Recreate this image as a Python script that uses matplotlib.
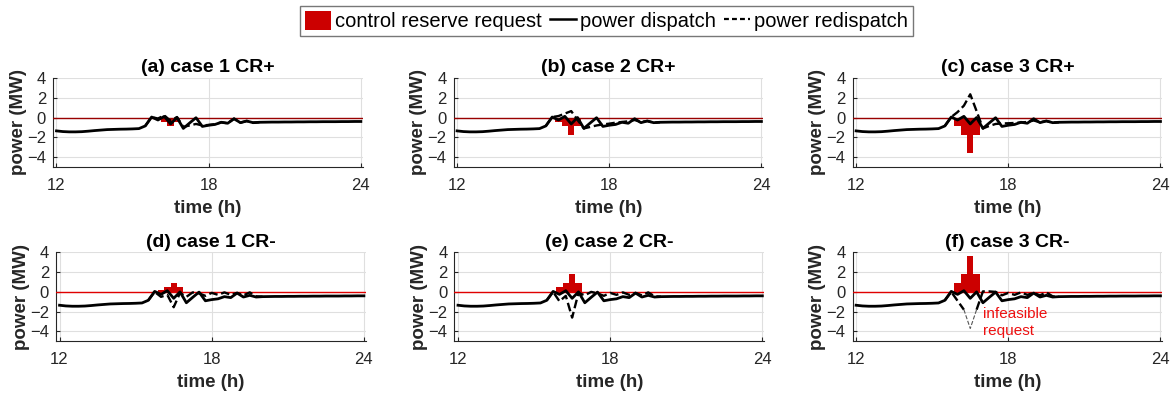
import numpy as np
import matplotlib
matplotlib.use("Agg")
import matplotlib.pyplot as plt
from matplotlib.patches import Patch
from matplotlib.lines import Line2D

plt.rcParams['font.family'] = ['Liberation Sans', 'DejaVu Sans']

# time axis, 15 min resolution
t = np.arange(12, 24.001, 0.25)

# power dispatch (same in all panels)
dispatch = [
    -1.35, -1.42, -1.45, -1.45, -1.43, -1.38, -1.32, -1.27,   # 12.00 - 13.75
    -1.22, -1.20, -1.18, -1.17, -1.15, -1.12, -0.85, 0.05,    # 14.00 - 15.75
    -0.25, 0.12, -0.65, 0.00, -1.10, -0.55, -0.02, -0.90,     # 16.00 - 17.75
    -0.78, -0.70, -0.48, -0.58, -0.12, -0.52, -0.35, -0.52,   # 18.00 - 19.75
    -0.48, -0.47, -0.46, -0.46, -0.45, -0.45, -0.44, -0.44,   # 20.00 - 21.75
    -0.43, -0.43, -0.42, -0.42, -0.42, -0.41, -0.41, -0.40,   # 22.00 - 23.75
    -0.40,                                                    # 24.00
]

# redispatch differs only inside this window
t_win = np.arange(15.5, 20.001, 0.25)
redisp_a = [-0.85, 0.05, -0.10, 0.22, -0.35, 0.05, -0.95, -0.80, -0.65, -0.80,
            -0.75, -0.68, -0.48, -0.58, -0.12, -0.52, -0.35, -0.52, -0.48]
redisp_b = [-0.85, 0.05, 0.15, 0.40, 0.65, -0.25, -1.10, -0.95, -0.80, -0.70,
            -0.62, -0.52, -0.45, -0.38, -0.25, -0.45, -0.35, -0.52, -0.48]
redisp_c = [-0.85, 0.05, 0.55, 1.20, 2.35, 0.65, -1.10, -0.85, -0.65, -0.60,
            -0.58, -0.55, -0.50, -0.45, -0.30, -0.48, -0.35, -0.52, -0.48]
redisp_d = [-0.85, 0.00, -0.50, -0.30, -1.55, -0.10, -0.50, -0.05, -0.15, -0.40,
            -0.10, -0.30, -0.05, -0.30, -0.10, -0.35, -0.05, -0.45, -0.48]
redisp_e = [-0.85, 0.00, -0.95, -0.40, -2.60, -0.10, -0.35, 0.00, -0.15, -0.40,
            -0.10, -0.30, -0.05, -0.30, -0.10, -0.35, -0.05, -0.45, -0.48]
redisp_f = [-0.85, 0.00, -0.90, -1.80, np.nan, -1.80, 0.05, 0.05, 0.00, -0.35,
            -0.10, -0.30, -0.05, -0.30, -0.10, -0.35, -0.05, -0.45, -0.48]

# infeasible part of case 3 CR-
t_inf = [16.25, 16.5, 16.75]
redisp_inf = [-1.80, -3.70, -1.80]

# control reserve requests
t_cr = [16.0, 16.25, 16.5, 16.75]
cr_1p = [-0.225, -0.45, -0.9, -0.45]
cr_2p = [-0.45, -0.9, -1.8, -0.9]
cr_3p = [-0.9, -1.8, -3.6, -1.8]
cr_1m = [0.225, 0.45, 0.9, 0.45]
cr_2m = [0.45, 0.9, 1.8, 0.9]
cr_3m = [0.9, 1.8, 3.6, 1.8]

titles = ['(a) case 1 CR+', '(b) case 2 CR+', '(c) case 3 CR+',
          '(d) case 1 CR-', '(e) case 2 CR-', '(f) case 3 CR-']
requests = [cr_1p, cr_2p, cr_3p, cr_1m, cr_2m, cr_3m]
redispatches = [redisp_a, redisp_b, redisp_c, redisp_d, redisp_e, redisp_f]

bar_red = '#cc0000'
gray = '#262626'

fig = plt.figure(figsize=(11.74, 3.99), dpi=100)

lefts = [0.0451, 0.3863, 0.7262, 0.0477, 0.3871, 0.7262]
bottoms = [0.5815, 0.5815, 0.5815, 0.1445, 0.1445, 0.1445]
w, h = 0.264, 0.2231

for i in range(6):
    ax = fig.add_axes([lefts[i], bottoms[i], w, h])
    ax.bar(t_cr, requests[i], width=0.25, color=bar_red, linewidth=0, zorder=2)
    zero_col = '#990000' if i < 3 else '#e00000'
    ax.axhline(0, color=zero_col, lw=1.0, zorder=3)
    ax.plot(t_win, redispatches[i], color='black', lw=1.7, ls='--', zorder=4)
    ax.plot(t, dispatch, color='black', lw=2.0, zorder=5)
    if i == 5:
        ax.plot(t_inf, redisp_inf, color='#555555', lw=0.8, ls='--', zorder=4)
        ax.text(17.0, -3.1, 'infeasible\nrequest', color='#ee1111', fontsize=11,
                va='center', ha='left', linespacing=1.25)

    ax.set_xlim(11.86, 24.08)
    ax.set_ylim(-5, 4)
    ax.set_xticks([12, 18, 24])
    ax.set_yticks([-4, -2, 0, 2, 4])
    ax.grid(True, color='#dfdfdf', lw=0.8, zorder=0)
    ax.set_axisbelow(True)
    for s in ['top', 'right']:
        ax.spines[s].set_visible(False)
    for s in ['left', 'bottom']:
        ax.spines[s].set_color(gray)
        ax.spines[s].set_linewidth(0.8)
    ax.tick_params(direction='in', length=3, width=0.8, colors=gray,
                   labelsize=12, pad=5)
    ax.tick_params(axis='x', pad=8)
    ax.set_title(titles[i], fontsize=14, fontweight='bold', pad=4)
    ax.set_xlabel('time (h)', fontsize=13.5, fontweight='bold', color=gray, labelpad=5)
    ax.set_ylabel('power (MW)', fontsize=13.5, fontweight='bold', color=gray, labelpad=0)

handles = [Patch(facecolor=bar_red, edgecolor='none'),
           Line2D([], [], color='black', lw=1.8),
           Line2D([], [], color='black', lw=1.6, ls=(0, (2.2, 1.4)))]
labels = ['control reserve request', 'power dispatch', 'power redispatch']
leg = fig.legend(handles, labels, loc='center', bbox_to_anchor=(0.5166, 0.947),
                 ncol=3, fontsize=14.5, frameon=True, fancybox=False,
                 handlelength=1.3, handleheight=1.1, handletextpad=0.2,
                 columnspacing=0.4, borderpad=0.25, borderaxespad=0)
leg.get_frame().set_edgecolor('#555555')
leg.get_frame().set_linewidth(1.0)

fig.savefig('out.png', dpi=100)
